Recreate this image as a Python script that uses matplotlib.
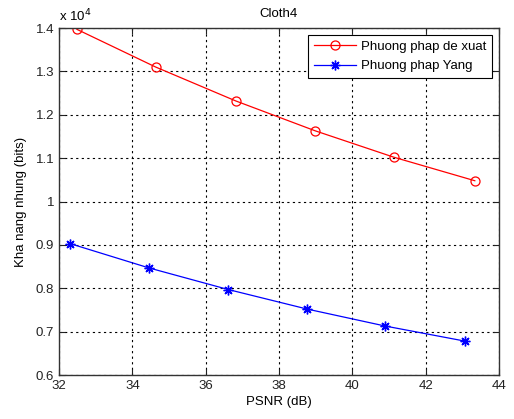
import numpy as np
import matplotlib
matplotlib.use('Agg')
import matplotlib.pyplot as plt

plt.rcParams['font.family'] = ['Liberation Sans', 'DejaVu Sans']

# data
psnr_de_xuat = [32.49, 34.64, 36.82, 38.99, 41.14, 43.34]
bits_de_xuat = [13970, 13100, 12320, 11630, 11020, 10480]
psnr_yang = [32.30, 34.45, 36.62, 38.77, 40.89, 43.08]
bits_yang = [9030, 8470, 7970, 7520, 7130, 6780]
xticks = [32, 34, 36, 38, 40, 42, 44]
yticks = [0.6, 0.7, 0.8, 0.9, 1.0, 1.1, 1.2, 1.3, 1.4]
ytick_labels = ['0.6', '0.7', '0.8', '0.9', '1', '1.1', '1.2', '1.3', '1.4']

fig = plt.figure(figsize=(5.14, 4.19), dpi=100)
ax = fig.add_axes([0.1148, 0.105, 0.856, 0.828])

scale = 1e4
ax.plot(psnr_de_xuat, np.array(bits_de_xuat) / scale, color='red', lw=0.9,
        marker='o', ms=6.5, mfc='none', mec='red', mew=0.9, label='Phuong phap de xuat')
ax.plot(psnr_yang, np.array(bits_yang) / scale, color='blue', lw=0.9,
        marker=(8, 2, 0), ms=7, mfc='blue', mec='blue', mew=1.0, label='Phuong phap Yang')

ax.set_xlim(32, 44)
ax.set_ylim(0.6, 1.4)
ax.set_xticks(xticks)
ax.set_yticks(yticks)
ax.set_yticklabels(ytick_labels)
ax.grid(True, color='black', ls=(0, (2, 3)), lw=0.8)
ax.tick_params(direction='in', top=True, right=True, labelsize=9.5, length=4,
               colors='#222222')
for s in ax.spines.values():
    s.set_color('#333333')
    s.set_linewidth(1.0)

ax.set_title('Cloth4', fontsize=9.5, pad=8)
ax.set_xlabel('PSNR (dB)', fontsize=9.5, labelpad=3)
ax.set_ylabel('Kha nang nhung (bits)', fontsize=9.5, labelpad=6)
ax.text(0.0, 1.012, r'x 10$^4$', transform=ax.transAxes, fontsize=9.5, ha='left', va='bottom')

leg = ax.legend(loc='upper right', fontsize=9.5, fancybox=False, framealpha=1,
                edgecolor='black', borderaxespad=0.5, handlelength=3.2,
                handletextpad=0.4, borderpad=0.45, labelspacing=0.55)
leg.get_frame().set_linewidth(0.8)

fig.savefig('out.png', dpi=100)
